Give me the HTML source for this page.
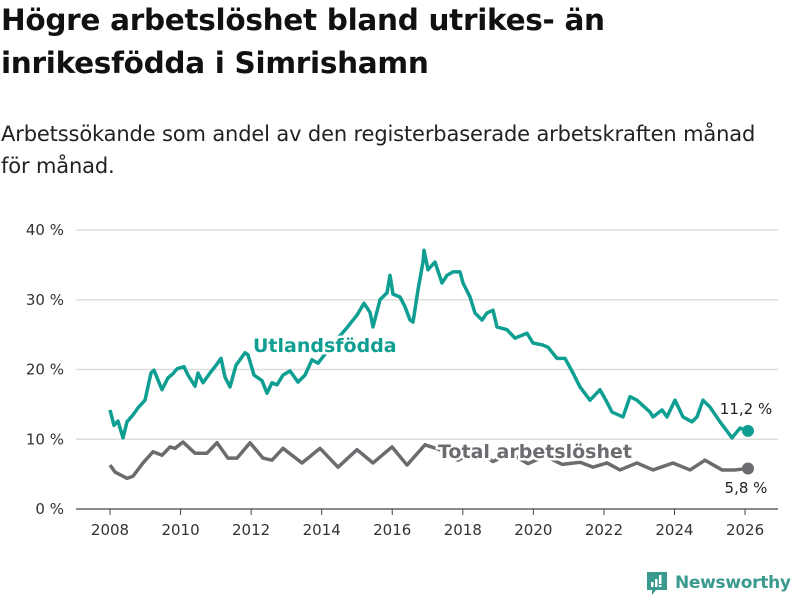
<!DOCTYPE html>
<html><head><meta charset="utf-8"><style>
body{margin:0;width:800px;height:600px;background:#fff;font-family:"DejaVu Sans","Liberation Sans",sans-serif;overflow:hidden;position:relative}
h1{position:absolute;left:1px;top:-1px;margin:0;font-size:29.5px;line-height:43px;font-weight:bold;color:#111;letter-spacing:-0.3px}
.sub{position:absolute;left:1px;top:118px;font-size:21px;line-height:32px;color:#222;letter-spacing:-0.15px}
svg{position:absolute;left:0;top:0}
</style></head><body>
<h1>Högre arbetslöshet bland utrikes- än<br>inrikesfödda i Simrishamn</h1>
<div class="sub">Arbetssökande som andel av den registerbaserade arbetskraften månad<br>för månad.</div>
<svg width="800" height="600" id="chart"></svg>
<script>
const yTicks=[0,10,20,30,40];
const xTicks=[2008,2010,2012,2014,2016,2018,2020,2022,2024,2026];
const utlPx=[110,114,118,123,127,133,138,145,151,154,162,168,173,177,184,188,195,198,203,210,216,221,225,230,236,245,248,254,262,267,272,277,283,290,298,305,312,318,332,347,357,364,370,373,380,387,390,393,400,405,410,413,418,423,424,428,435,442,447,453,460,463,470,475,482,487,493,497,507,515,527,533,543,548,557,565,573,580,590,600,607,612,623,630,637,650,653,662,667,675,683,692,697,703,710,720,732,740,748];
const utlVals=[14.2,12.0,12.6,10.2,12.5,13.5,14.5,15.6,19.5,19.9,17.1,18.8,19.4,20.1,20.4,19.2,17.6,19.5,18.1,19.5,20.6,21.6,18.9,17.5,20.6,22.4,22.1,19.2,18.4,16.6,18.1,17.8,19.2,19.8,18.2,19.2,21.4,20.9,23.5,26.0,27.8,29.5,28.2,26.1,30.0,31.0,33.5,30.8,30.4,29.0,27.1,26.8,31.4,35.4,37.1,34.3,35.4,32.4,33.5,34.0,34.0,32.4,30.4,28.1,27.1,28.1,28.5,26.1,25.7,24.5,25.2,23.8,23.5,23.2,21.6,21.6,19.5,17.5,15.6,17.1,15.3,13.9,13.2,16.1,15.6,13.9,13.2,14.2,13.2,15.6,13.2,12.5,13.2,15.6,14.6,12.5,10.2,11.6,11.2];
const totPx=[110,115,127,133,143,153,162,170,175,183,195,207,217,228,237,250,263,272,283,302,320,338,357,373,392,407,425,440,458,475,493,510,528,545,562,580,593,607,620,637,653,673,690,705,722,735,748];
const totVals=[6.3,5.3,4.4,4.7,6.6,8.2,7.7,8.9,8.7,9.6,8.0,8.0,9.5,7.3,7.3,9.5,7.3,7.0,8.7,6.6,8.7,6.0,8.5,6.6,8.9,6.3,9.2,8.5,7.0,8.4,6.8,8.0,6.5,7.6,6.4,6.7,6.0,6.6,5.6,6.6,5.6,6.6,5.6,7.0,5.6,5.6,5.8];
const utlYears=utlPx.map(p=>2008+(p-110)/35.28);
const totYears=totPx.map(p=>2008+(p-110)/35.28);
const X=y=>110+(y-2008)*35.28, Y=v=>509-v*6.975;
const svg=document.getElementById('chart');const NS='http://www.w3.org/2000/svg';
function mk(t,a,p){const e=document.createElementNS(NS,t);for(const k in a)e.setAttribute(k,a[k]);(p||svg).appendChild(e);return e;}
yTicks.forEach(v=>{
 const l=mk('line',{x1:76,x2:778,y1:Y(v),y2:Y(v),stroke:v?'#ddd':'#444','stroke-width':v?1.5:1.2});
 
 
 const t=mk('text',{x:64,y:Y(v)+5,'text-anchor':'end','font-size':15,fill:'#333'});t.textContent=v+' %';
 
 
});
xTicks.forEach(yr=>{
 const l=mk('line',{x1:X(yr),x2:X(yr),y1:509,y2:515,stroke:'#444'});
 
 
 const t=mk('text',{x:X(yr),y:535,'text-anchor':'middle','font-size':15,fill:'#333'});t.textContent=yr;
 
 
});
function line(ys,vs,c,n){const p=mk('polyline',{points:ys.map((y,i)=>X(y)+','+Y(vs[i])).join(' '),fill:'none',stroke:c,'stroke-width':3.5,'stroke-linejoin':'round'});
 
 
 const d=mk('circle',{cx:X(ys[ys.length-1]),cy:Y(vs[vs.length-1]),r:6,fill:c});
 
 }
line(totYears,totVals,'#6c6b70','total-line');
line(utlYears,utlVals,'#0f9f92','utlandsfodda-line');
function lab(x,y,txt,c,n,anchor,sz,w){const t=mk('text',{x:x,y:y,'font-size':sz,'font-weight':w,fill:c,'text-anchor':anchor,stroke:'#fff','stroke-width':w=='bold'?5:0,'paint-order':'stroke'});t.textContent=txt;
 
 }
lab(253,352,'Utlandsfödda','#0f9f92','utlandsfodda-label','start',19,'bold');
lab(438,458,'Total arbetslöshet','#6c6b70','total-label','start',19,'bold');
lab(746,414,'11,2 %','#222','utlandsfodda-end-value','middle',15,'normal');
lab(746,493,'5,8 %','#222','total-end-value','middle',15,'normal');
</script>
<div style="position:absolute;left:645px;top:570px;display:flex;align-items:center;color:#3a9a8e;font-size:17px;font-weight:bold;letter-spacing:-0.3px">
<svg width="24" height="26" style="position:static;margin-right:6px"><path d="M2 2h20v18h-11l-4 5v-5h-5z" fill="#3a9a8e"/><rect x="6" y="12" width="2.5" height="5" fill="#fff"/><rect x="10" y="9" width="2.5" height="8" fill="#fff"/><rect x="14" y="5" width="2.5" height="9" fill="#fff"/><rect x="14" y="15" width="2.5" height="2" fill="#fff"/></svg>Newsworthy</div>
</body></html>
